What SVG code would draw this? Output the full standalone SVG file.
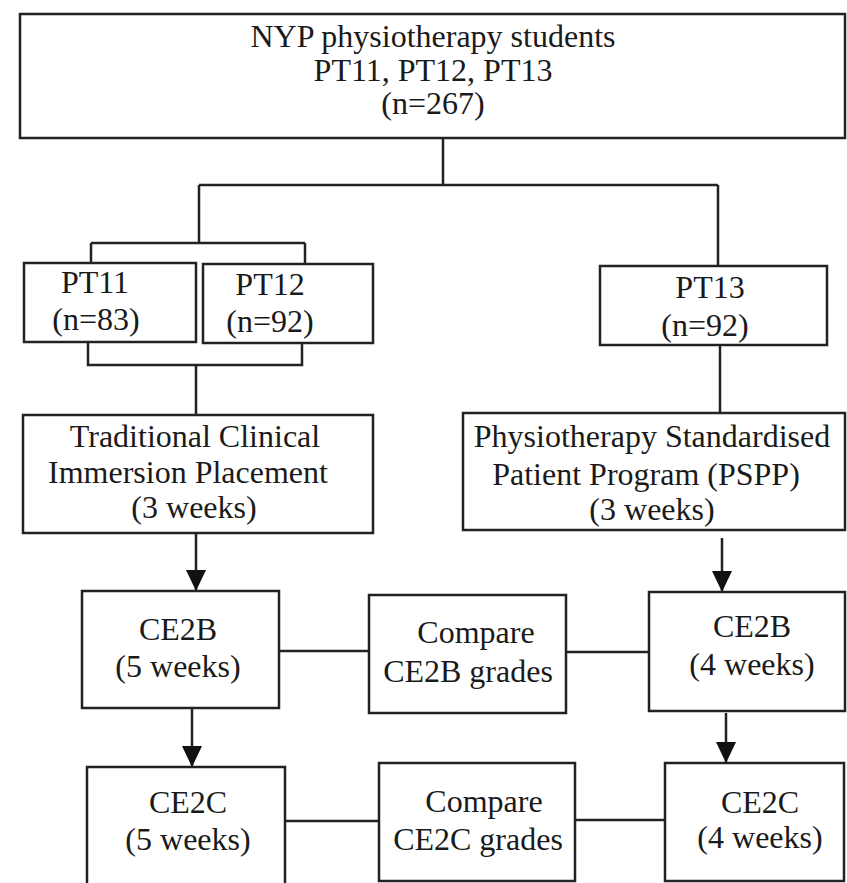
<svg xmlns="http://www.w3.org/2000/svg" width="847" height="883" viewBox="0 0 847 883">
<defs>
<style>
.box{fill:#fff;stroke:#222;stroke-width:2.5}
.ln{fill:none;stroke:#222;stroke-width:2.5}
text{font-family:'Liberation Serif','Times New Roman','DejaVu Serif',serif;font-size:32px;fill:#1a1a1a;text-anchor:middle}
</style>
<marker id="arr" markerUnits="userSpaceOnUse" markerWidth="22" markerHeight="22" viewBox="0 0 22 20" refX="21" refY="10" orient="auto">
<path d="M0,0 L21,10 L0,20 z" fill="#111"/>
</marker>
</defs>
<rect width="847" height="883" fill="#fff"/>
<g id="connectors">
<path class="ln" d="M443,138 V185 M199,185 H718 M199,185 V243 M91,243 H305 M91,243 V263 M305,243 V264 M718,185 V266"/>
<path class="ln" d="M88,342 V365 H302 V343 M196,365 V415 M720,345 V413"/>
<path class="ln" d="M196,533 V591" marker-end="url(#arr)"/>
<path class="ln" d="M722,538 V592" marker-end="url(#arr)"/>
<path class="ln" d="M192,708 V767" marker-end="url(#arr)"/>
<path class="ln" d="M726,713 V763" marker-end="url(#arr)"/>
<path class="ln" d="M279,651 H369 M566,652 H649 M285,821 H379 M575,820 H665"/>
</g>
<g id="nodes" font-family="Liberation Serif, Times New Roman, DejaVu Serif, serif" font-size="32" text-anchor="middle">
<g id="top">
<rect class="box" x="20" y="14" width="825" height="124"/>
<text x="433" y="47">NYP physiotherapy students</text>
<text x="433" y="81">PT11, PT12, PT13</text>
<text x="433" y="114">(n=267)</text>
</g>
<g id="pt11">
<rect class="box" x="24" y="263" width="172" height="79"/>
<text x="95" y="293">PT11</text>
<text x="96" y="330">(n=83)</text>
</g>
<g id="pt12">
<rect class="box" x="203" y="264" width="170" height="79"/>
<text x="270" y="295">PT12</text>
<text x="270" y="332">(n=92)</text>
</g>
<g id="pt13">
<rect class="box" x="600" y="266" width="227" height="79"/>
<text x="710" y="298">PT13</text>
<text x="705" y="336">(n=92)</text>
</g>
<g id="traditional">
<rect class="box" x="23" y="415" width="350" height="118"/>
<text x="195" y="447">Traditional Clinical</text>
<text x="188" y="483">Immersion Placement</text>
<text x="194" y="518">(3 weeks)</text>
</g>
<g id="pspp">
<rect class="box" x="463" y="413" width="382" height="117"/>
<text x="652" y="447">Physiotherapy Standardised</text>
<text x="646" y="485">Patient Program (PSPP)</text>
<text x="652" y="520">(3 weeks)</text>
</g>
<g id="ce2b-left">
<rect class="box" x="82" y="591" width="197" height="117"/>
<text x="178" y="640">CE2B</text>
<text x="178" y="677">(5 weeks)</text>
</g>
<g id="compare-ce2b">
<rect class="box" x="369" y="595" width="197" height="118"/>
<text x="476" y="643">Compare</text>
<text x="468" y="682">CE2B grades</text>
</g>
<g id="ce2b-right">
<rect class="box" x="649" y="592" width="196" height="119"/>
<text x="752" y="637">CE2B</text>
<text x="752" y="675">(4 weeks)</text>
</g>
<g id="ce2c-left">
<rect class="box" x="87" y="767" width="198" height="130"/>
<text x="188" y="813">CE2C</text>
<text x="188" y="850">(5 weeks)</text>
</g>
<g id="compare-ce2c">
<rect class="box" x="379" y="763" width="196" height="118"/>
<text x="484" y="812">Compare</text>
<text x="478" y="850">CE2C grades</text>
</g>
<g id="ce2c-right">
<rect class="box" x="665" y="763" width="179" height="118"/>
<text x="760" y="813">CE2C</text>
<text x="760" y="848">(4 weeks)</text>
</g>
</g>
</svg>
